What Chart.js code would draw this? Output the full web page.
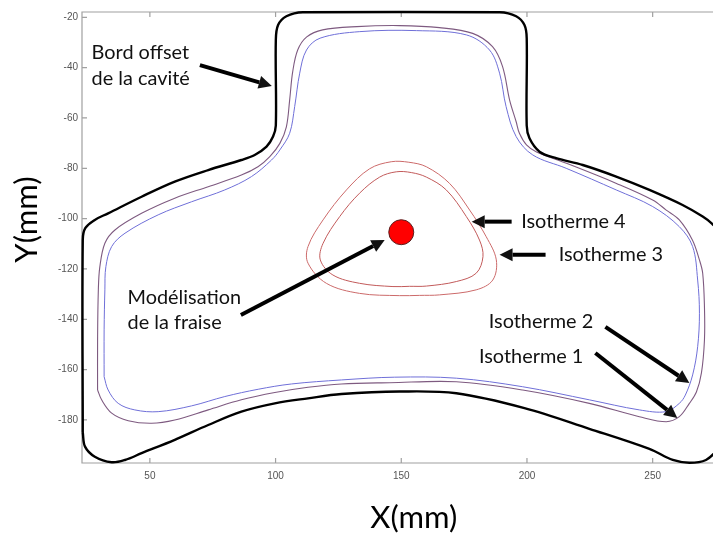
<!DOCTYPE html>
<html>
<head>
<meta charset="utf-8">
<script src="https://cdn.jsdelivr.net/npm/chart.js@4.4.1/dist/chart.umd.min.js"></script>
<style>
html, body { margin: 0; padding: 0; background: #fff; }
#wrap { width: 713px; height: 533px; }
</style>
</head>
<body>
<div id="wrap"><canvas id="chartCavite" width="713" height="533"></canvas></div>
<script>
// ticks / bornes des axes (mm)
const xTicks = [50, 100, 150, 200, 250];
const yTicks = [-20, -40, -60, -80, -100, -120, -140, -160, -180];
const xMin = 23, xMax = 274;
const yMin = -197.1, yMax = -17.9;

// bord offset de la cavité (noir) - sort à droite du cadre
const bordOffset = [
  [23.3, -185], [23.3, -108.5], [24.3, -103.8], [28.1, -100.5], [33.4, -97.9], [46.7, -91.3],
  [59.9, -85.3], [73.2, -80.7], [86.4, -76.7], [91.7, -74.7], [96.4, -71.4], [99, -67.4],
  [100.1, -63], [100.1, -29], [101, -23.1], [104.3, -19.6], [110.9, -18], [189.1, -18],
  [195.7, -19.6], [199, -23.1], [199.9, -28.3], [199.9, -63], [201, -68.1], [205, -73.4],
  [211.6, -76], [222.2, -78.7], [235.5, -83.3], [248.7, -88.6], [261.9, -94.6], [269.9, -99.2],
  [273.7, -102.1], [277, -106], [280, -115], [281, -150], [280, -185], [276, -191.5],
  [271.2, -195.9], [264.6, -197], [258, -195.9], [248.7, -191.5], [224.8, -183.5], [199, -175.3],
  [171.9, -169.4], [149.3, -168.7], [126.2, -169.7], [112.9, -171.4], [99.7, -173.4], [86.4, -176.7],
  [73.2, -182], [59.9, -187.9], [46.7, -193.2], [40.1, -195.9], [34.8, -196.8], [28.1, -194.6],
  [24.2, -190.6], [23.3, -185]
];

// isotherme 1 (violet)
const isotherme1 = [
  [29.2, -168.1], [29.2, -148.2], [29.5, -128.3], [30.1, -119.1], [32.1, -109.8], [36.1, -104.5],
  [46.7, -97.9], [59.9, -91.9], [73.2, -87.3], [86.4, -82.7], [93, -79.4], [97.7, -75.4],
  [101.7, -70.1], [104.3, -63.5], [105.6, -52.9], [106.8, -41.7], [108.8, -33], [112.4, -27.8],
  [118.7, -25], [132.3, -23.7], [149.3, -23.3], [165.2, -24.1], [178.4, -26.4], [186.3, -31.7],
  [190.3, -39.6], [193.1, -52.9], [195.7, -61.5], [197, -66.1], [199.8, -70.7], [203.8, -73.5],
  [215.7, -78], [235.6, -86], [250, -92.6], [255.4, -96.6], [260.6, -100.5], [265.8, -108.5],
  [268.6, -116.4], [269.9, -121.7], [270.6, -135], [270.6, -148.2], [269.4, -161.3], [267.4, -168.9],
  [264.6, -173.4], [260.6, -178.7], [255.4, -180.7], [244.7, -178.7], [224.8, -173.4], [198.3, -168.1],
  [171.9, -164.8], [145.4, -165.2], [126.2, -165.7], [112.9, -167], [99.7, -169.1], [86.4, -172],
  [73.2, -176], [59.9, -180], [50.7, -181.3], [41.4, -180.3], [34.8, -177.3], [30.8, -172],
  [29.2, -168.1]
];

// isotherme 2 (bleu)
const isotherme2 = [
  [31.8, -162.8], [31.8, -144.2], [32.1, -128.3], [32.5, -119.1], [34.8, -111.1], [40.1, -105.8],
  [53.3, -98.5], [66.6, -93.3], [79.8, -88.6], [90.4, -83.3], [98.4, -76.7], [101.7, -72.7],
  [105.6, -66.1], [107.6, -55.5], [109.6, -42.2], [112.3, -33], [117.7, -28.3], [133.5, -25.7],
  [156, -25.3], [175.9, -27], [185.1, -33], [189.1, -42.2], [191.7, -55.5], [195.7, -67.4],
  [202.3, -74.7], [215.6, -80], [235.5, -88.6], [250, -95.2], [260.6, -103.2], [265.9, -111.1],
  [267.9, -124.4], [268.6, -137.6], [267.9, -150.9], [265.9, -162.1], [263, -170.1], [260.6, -173.4],
  [255.3, -176.7], [244.7, -176], [224.8, -172], [198.3, -166.8], [171.9, -163.4], [147.4, -163],
  [126.2, -164.1], [106.3, -165.7], [93.1, -167.8], [79.8, -170.7], [66.6, -174.4], [53.3, -176.7],
  [44, -176], [37.4, -173.4], [33.4, -168.1], [31.8, -162.8]
];

// isotherme 3 (rouge, extérieur)
const isotherme3 = [
  [157.3, -130.5], [149.3, -130.6], [133.4, -129.7], [120.2, -125.7], [112.9, -117.7], [112.9, -111.1],
  [118.9, -100.5], [128.2, -88.6], [137.4, -80.2], [146, -77.4], [153, -77.6], [160, -79.4],
  [169.2, -86], [177.2, -96.6], [183.8, -107.2], [187.8, -116.4], [186.4, -124.4], [179.8, -128.3],
  [165.2, -130.3], [157.3, -130.5]
];

// isotherme 4 (rouge, intérieur)
const isotherme4 = [
  [153.3, -126.9], [146.7, -127], [133.4, -125.7], [122.8, -122.4], [117.8, -116.4], [118.9, -109.8],
  [125.5, -99.2], [133.4, -89.9], [141.4, -83.5], [148, -81.4], [154, -81.7], [160, -83.5],
  [167.9, -88.6], [175.9, -99.2], [181.1, -108.5], [182.5, -115.1], [179.8, -121.7], [171.9, -125],
  [160, -126.8], [153.3, -126.9]
];

// position de la fraise
const fraise = [[150, -105.4]];

// annotations : texte (x gauche, y centre de la 1re ligne) et flèche (queue -> pointe), en mm
const annotations = [
  { lines: ["Bord offset", "de la cavité"], at: [26.8, -34.1], from: [69.9, -39.0], to: [98.5, -47.3] },
  { lines: ["Isotherme 4"], at: [197.7, -101.2], from: [193.9, -101.2], to: [178.0, -101.2] },
  { lines: ["Isotherme 3"], at: [212.6, -114.4], from: [207.4, -114.4], to: [189.1, -114.4] },
  { lines: ["Modélisation", "de la fraise"], at: [41.1, -131.2], from: [86.2, -138.3], to: [143.4, -108.5] },
  { lines: ["Isotherme 2"], at: [184.8, -140.9], from: [231.2, -143.0], to: [264.6, -165.3] },
  { lines: ["Isotherme 1"], at: [180.9, -154.8], from: [227.2, -153.4], to: [259.8, -179.2] }
];

const pts = (arr) => arr.map(([x, y]) => ({ x, y }));

function fitFont(ctx, family, text, target) {
  ctx.font = "40px " + family;
  return 40 * target / ctx.measureText(text).width;
}

function arrow(ctx, x0, y0, x1, y1) {
  const a = Math.atan2(y1 - y0, x1 - x0), L = 13, W = 6.5;
  const bx = x1 - L * Math.cos(a), by = y1 - L * Math.sin(a);
  ctx.lineWidth = 4;
  ctx.beginPath(); ctx.moveTo(x0, y0); ctx.lineTo(bx, by); ctx.stroke();
  ctx.beginPath();
  ctx.moveTo(x1, y1);
  ctx.lineTo(bx - W * Math.sin(a), by + W * Math.cos(a));
  ctx.lineTo(bx + W * Math.sin(a), by - W * Math.cos(a));
  ctx.closePath(); ctx.fill();
}

const cadre = {
  id: "cadre",
  beforeDatasetsDraw(chart) {
    const { ctx, chartArea: a, scales: { x, y } } = chart;
    ctx.save();
    ctx.strokeStyle = "#a0a0a0"; ctx.lineWidth = 1.2;
    ctx.beginPath();
    ctx.moveTo(a.right, a.top); ctx.lineTo(a.left, a.top); ctx.lineTo(a.left, a.bottom); ctx.lineTo(a.right, a.bottom);
    ctx.stroke();
    ctx.beginPath();
    xTicks.forEach((v) => {
      const px = x.getPixelForValue(v);
      ctx.moveTo(px, a.bottom); ctx.lineTo(px, a.bottom - 5);
      ctx.moveTo(px, a.top); ctx.lineTo(px, a.top + 5);
    });
    yTicks.forEach((v) => {
      const py = y.getPixelForValue(v);
      ctx.moveTo(a.left, py); ctx.lineTo(a.left + 5, py);
    });
    ctx.stroke();
    ctx.restore();
  },
  afterDraw(chart) {
    const { ctx, chartArea: a, scales: { x, y } } = chart;
    ctx.save();
    ctx.fillStyle = "#111"; ctx.strokeStyle = "#000";
    const fam = "Lato, 'Open Sans', sans-serif";
    const fs = fitFont(ctx, fam, "Isotherme 4", 104.5);
    ctx.font = fs + "px " + fam;
    ctx.textBaseline = "middle"; ctx.textAlign = "left";
    annotations.forEach((an) => {
      const tx = x.getPixelForValue(an.at[0]), ty = y.getPixelForValue(an.at[1]);
      an.lines.forEach((l, i) => ctx.fillText(l, tx, ty + i * 25.5));
      arrow(ctx, x.getPixelForValue(an.from[0]), y.getPixelForValue(an.from[1]),
                 x.getPixelForValue(an.to[0]), y.getPixelForValue(an.to[1]));
    });
    // titres des axes
    const ft = fitFont(ctx, fam, "X(mm)", 87);
    ctx.font = ft + "px " + fam;
    ctx.fillStyle = "#000";
    ctx.textAlign = "center"; ctx.textBaseline = "alphabetic";
    ctx.fillText("X(mm)", x.getPixelForValue(155), 528);
    ctx.translate(37, y.getPixelForValue(-100) + 1);
    ctx.rotate(-Math.PI / 2);
    ctx.fillText("Y(mm)", 0, 0);
    ctx.restore();
  }
};

const ligne = (label, data, color, width) => ({
  label, data: pts(data), showLine: true, borderColor: color, borderWidth: width,
  pointRadius: 0, tension: 0.35, fill: false
});

new Chart(document.getElementById("chartCavite").getContext("2d"), {
  type: "scatter",
  data: {
    datasets: [
      { ...ligne("Bord offset", bordOffset, "#000", 2.4), clip: { left: 3, top: 3, right: 0, bottom: 3 } },
      ligne("Isotherme 1", isotherme1, "#7e5a80", 1.1),
      ligne("Isotherme 2", isotherme2, "#6f6fd8", 1.0),
      ligne("Isotherme 3", isotherme3, "#cc6a6a", 1.0),
      ligne("Isotherme 4", isotherme4, "#c25a5a", 1.0),
      { label: "Fraise", data: pts(fraise), pointRadius: 12.5, pointHoverRadius: 12.5,
        backgroundColor: "#ff0000", borderColor: "#5a2020", borderWidth: 1 }
    ]
  },
  options: {
    responsive: false,
    animation: false,
    layout: { autoPadding: false, padding: { top: 12, right: 0, left: 0, bottom: 0 } },
    plugins: { legend: { display: false }, tooltip: { enabled: false } },
    scales: {
      x: {
        type: "linear", min: xMin, max: xMax,
        afterBuildTicks: (s) => { s.ticks = xTicks.map((v) => ({ value: v })); },
        afterFit: (s) => { s.height = 70; },
        grid: { display: false, drawTicks: false },
        border: { display: false },
        ticks: { color: "#555", padding: 7, font: { family: "'Liberation Sans', Arial", size: 10 } }
      },
      y: {
        type: "linear", min: yMin, max: yMax,
        afterBuildTicks: (s) => { s.ticks = yTicks.map((v) => ({ value: v })); },
        afterFit: (s) => { s.width = 82; },
        grid: { display: false, drawTicks: false },
        border: { display: false },
        ticks: { color: "#555", padding: 4, font: { family: "'Liberation Sans', Arial", size: 10 } }
      }
    }
  },
  plugins: [cadre]
});
</script>
</body>
</html>
